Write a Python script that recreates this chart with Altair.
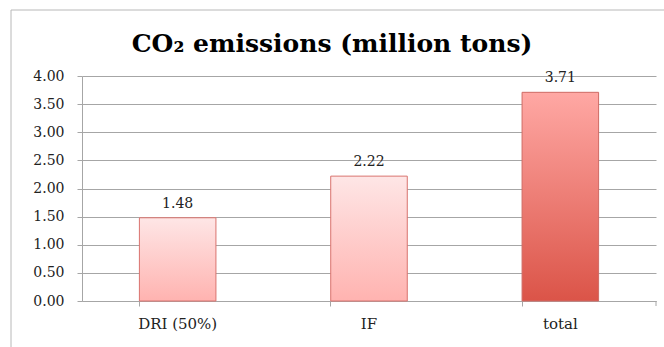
import altair as alt
import pandas as pd

# Emission figures (million tons of CO2)
categories = ["DRI (50%)", "IF", "total"]
emissions = [1.48, 2.22, 3.71]
y_ticks = [0, 0.5, 1, 1.5, 2, 2.5, 3, 3.5, 4]
title_text = "CO₂ emissions (million tons)"

df = pd.DataFrame({"category": categories, "value": emissions})

FONT = "DejaVu Serif"
W, H = 574, 225

x_enc = alt.X(
    "category:N",
    sort=categories,
    title=None,
    scale=alt.Scale(paddingInner=0.6, paddingOuter=0.3),
    axis=alt.Axis(
        labelAngle=0, bandPosition=0, labelPadding=10, tickSize=5,
        labelFontSize=15,
        grid=False, domainColor="#a6a6a6", tickColor="#a6a6a6",
    ),
)
y_enc = alt.Y(
    "value:Q",
    title=None,
    scale=alt.Scale(domain=[0, 4], nice=False),
    axis=alt.Axis(
        values=y_ticks, format=".2f", labelPadding=13, tickSize=5,
        labelFontSize=14,
        gridColor="#a6a6a6", domainColor="#a6a6a6", tickColor="#a6a6a6",
    ),
)

light_fill = alt.Gradient(
    gradient="linear", x1=0, y1=0, x2=0, y2=1,
    stops=[alt.GradientStop(color="#fee6e6", offset=0),
           alt.GradientStop(color="#ffb3b0", offset=1)],
)
dark_fill = alt.Gradient(
    gradient="linear", x1=0, y1=0, x2=0, y2=1,
    stops=[alt.GradientStop(color="#ffa8a4", offset=0),
           alt.GradientStop(color="#db5448", offset=1)],
)

base = alt.Chart(df)

parts_bars = base.transform_filter(alt.datum.category != "total").mark_bar(
    fill=light_fill, stroke="#d9736e", strokeWidth=1
).encode(x=x_enc, y=y_enc)

total_bar = base.transform_filter(alt.datum.category == "total").mark_bar(
    fill=dark_fill, stroke="#cf6a64", strokeWidth=1
).encode(x=x_enc, y=y_enc)

labels = base.mark_text(
    font=FONT, fontSize=14, color="#222222", baseline="bottom", dy=-7
).encode(x=x_enc, y=y_enc, text=alt.Text("value:Q", format=".2f"))

one = alt.Data(values=[{}])
frame_left = alt.Chart(one).mark_rule(color="#b8b8b8").encode(
    x=alt.value(-71), y=alt.value(-66), y2=alt.value(H + 60)
)
frame_top = alt.Chart(one).mark_rule(color="#b8b8b8").encode(
    x=alt.value(-71), x2=alt.value(W + 20), y=alt.value(-66)
)
end_tick = alt.Chart(one).mark_rule(color="#a6a6a6").encode(
    x=alt.value(W), y=alt.value(H), y2=alt.value(H + 5)
)

# Chart heading, centred on the framed area
heading = alt.Chart(one).mark_text(
    text=title_text, font=FONT, fontSize=25, fontWeight="bold",
    color="#000000", align="center", baseline="alphabetic",
).encode(x=alt.value(250), y=alt.value(-24))

chart = alt.layer(
    frame_left, frame_top, parts_bars, total_bar, labels, end_tick, heading
).properties(
    width=W,
    height=H,
    autosize=alt.AutoSizeParams(type="none"),
    padding={"left": 82, "top": 76, "right": 8, "bottom": 46},
).configure_axis(
    labelFont=FONT, labelColor="#222222",
).configure_view(stroke=None)

chart.save("out.html", embed_options={"renderer": "svg", "actions": False})
